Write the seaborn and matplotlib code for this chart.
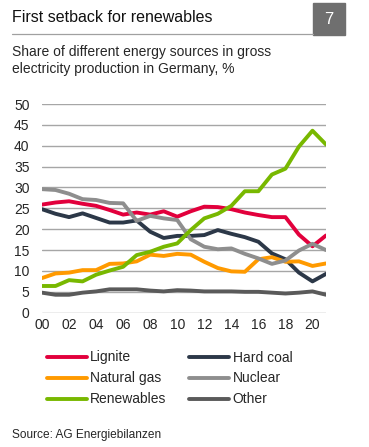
import matplotlib
matplotlib.use("Agg")
import matplotlib.pyplot as plt
from matplotlib.patches import Rectangle
from matplotlib.lines import Line2D
import seaborn as sns
import pandas as pd

# data (share of gross electricity production, %)
years = list(range(2000, 2022))
lignite = [25.9, 26.4, 26.7, 26.1, 25.6, 24.6, 23.5, 24.0, 23.5, 24.3, 23.0, 24.3,
           25.4, 25.3, 24.8, 24.0, 23.4, 22.9, 22.9, 18.7, 15.9, 18.5]
hard_coal = [24.8, 23.7, 22.9, 23.8, 22.7, 21.6, 21.6, 22.1, 19.4, 17.9, 18.4, 18.4,
             18.6, 19.8, 18.9, 18.1, 17.0, 14.2, 12.8, 9.6, 7.5, 9.3]
natural_gas = [8.3, 9.4, 9.6, 10.2, 10.2, 11.7, 11.8, 12.3, 13.9, 13.6, 14.1, 13.9,
               12.2, 10.7, 9.9, 9.8, 12.8, 13.3, 12.2, 12.3, 11.2, 11.8]
nuclear = [29.6, 29.4, 28.5, 27.2, 27.0, 26.3, 26.2, 22.0, 23.2, 22.6, 22.2, 17.6,
           15.8, 15.2, 15.4, 14.1, 13.0, 11.7, 12.5, 14.9, 16.5, 15.0]
renewables = [6.4, 6.4, 7.8, 7.5, 9.1, 10.1, 11.0, 13.8, 14.6, 15.8, 16.6, 19.8,
              22.6, 23.7, 25.6, 29.1, 29.1, 33.1, 34.5, 39.8, 43.6, 40.3]
other = [4.8, 4.3, 4.3, 4.8, 5.1, 5.6, 5.6, 5.6, 5.3, 5.1, 5.4, 5.3,
         5.1, 5.1, 5.1, 5.0, 5.0, 4.8, 4.6, 4.8, 5.1, 4.3]

series = ["Lignite", "Hard coal", "Natural gas", "Nuclear", "Renewables", "Other"]
colors = ["#E2003C", "#2C3848", "#FF9A00", "#8E8E8E", "#78B800", "#5A5A5A"]
x_ticks = list(range(2000, 2021, 2))
y_ticks = list(range(0, 51, 5))

df = pd.DataFrame({"Year": years, "Lignite": lignite, "Hard coal": hard_coal,
                   "Natural gas": natural_gas, "Nuclear": nuclear,
                   "Renewables": renewables, "Other": other})
long_df = df.melt(id_vars="Year", var_name="Source", value_name="Share")

sns.set_style("white")
plt.rcParams["font.family"] = ["Liberation Sans", "DejaVu Sans"]

fig = plt.figure(figsize=(3.69, 4.47), dpi=100)
ax = fig.add_axes([42 / 369, 1 - 312.7 / 447, 284 / 369, 208.7 / 447])

for y in y_ticks:
    ax.axhline(y, color="#A6A6A6", lw=1.0, zorder=0)

sns.lineplot(data=long_df, x="Year", y="Share", hue="Source", hue_order=series,
             palette=colors, lw=2.8, legend=False, ax=ax)

ax.set_xlim(2000, 2021)
ax.set_ylim(0, 50)
ax.set_xticks(x_ticks)
ax.set_xticklabels([f"{y % 100:02d}" for y in x_ticks])
ax.set_yticks(y_ticks)
ax.tick_params(length=0, labelsize=10, pad=4)
ax.tick_params(axis="y", pad=9)
ax.set_xlabel("")
ax.set_ylabel("")
for s in ax.spines.values():
    s.set_visible(False)

# header
fig.text(12 / 369, 1 - 18 / 447, "First setback for renewables", fontsize=11.5,
         va="center", ha="left", color="#111111")
fig.add_artist(Line2D([12 / 369, 313 / 369], [1 - 34 / 447, 1 - 34 / 447],
                      color="#A0A0A0", lw=0.9))
fig.add_artist(Rectangle((313 / 369, 1 - 35 / 447), 32 / 369, 32 / 447,
                         color="#6F6F6F", transform=fig.transFigure))
fig.text(329 / 369, 1 - 19.5 / 447, "7", fontsize=12, color="white",
         ha="center", va="center")
fig.text(12 / 369, 1 - 52 / 447, "Share of different energy sources in gross",
         fontsize=10, va="center", ha="left")
fig.text(12 / 369, 1 - 68.5 / 447, "electricity production in Germany, %",
         fontsize=10, va="center", ha="left")

# legend in two columns, filled row by row like the reference
order = [0, 2, 4, 1, 3, 5]
handles = [Line2D([], [], color=colors[i], lw=2.8) for i in order]
labels = [series[i] for i in order]
leg = fig.legend(handles, labels, ncol=2, loc="upper left",
                 bbox_to_anchor=(34 / 369, 1 - 338 / 447), frameon=False,
                 fontsize=10, handlelength=2.9, handletextpad=0.25,
                 columnspacing=1.6, labelspacing=0.5)

fig.text(12 / 369, 1 - 435 / 447, "Source: AG Energiebilanzen", fontsize=8.6,
         va="center", ha="left")

fig.savefig("out.png", dpi=100)
